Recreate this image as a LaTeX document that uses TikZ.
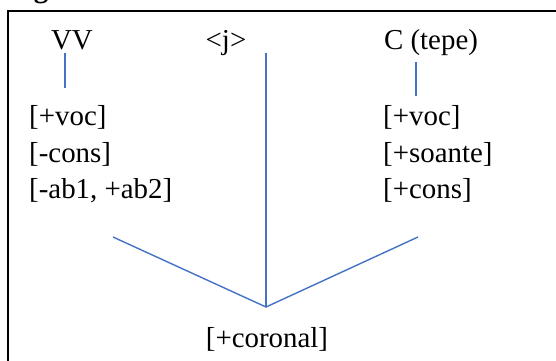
\documentclass[tikz,border=0pt]{standalone}
\usepackage{fontspec}
\setmainfont{Liberation Serif}
\definecolor{lineblue}{HTML}{4472C4}
\begin{document}
\begin{tikzpicture}[x=1bp,y=-1bp,
  lbl/.style={inner sep=0pt, font=\fontsize{29}{34}\selectfont},
  link/.style={draw=lineblue, line width=1.4bp}]
\useasboundingbox (0,0) rectangle (556,360);
\begin{scope}
\clip (0,0) rectangle (556,360);
\node[inner sep=0pt, font=\bfseries\fontsize{29}{34}\selectfont, anchor=base west] (fig) at (8,-3) {Figura 1};
\draw[line width=1.2bp] (8,11) rectangle (580,380);
\end{scope}
% top labels
\node[lbl, anchor=base] (vv) at (72,49) {VV};
\node[lbl, anchor=base] (j) at (226,49) {<j>};
\node[lbl, anchor=base] (c) at (431,49) {C (tepe)};
% left feature block
\node[lbl, anchor=base west] (l1) at (29,125) {[+voc]};
\node[lbl, anchor=base west] (l2) at (29,162) {[-cons]};
\node[lbl, anchor=base west] (l3) at (29,198) {[-ab1, +ab2]};
% right feature block
\node[lbl, anchor=base west] (r1) at (383,125) {[+voc]};
\node[lbl, anchor=base west] (r2) at (383,162) {[+soante]};
\node[lbl, anchor=base west] (r3) at (383,198) {[+cons]};
% bottom
\node[lbl, anchor=base] (co) at (267,347) {[+coronal]};
% connector end points
\coordinate (vvb) at (65,53);
\coordinate (l1t) at (65,88);
\coordinate (cb) at (416,62);
\coordinate (r1t) at (416,96);
\coordinate (jb) at (266,53);
\coordinate (joint) at (266,307);
\coordinate (lend) at (113,237);
\coordinate (rend) at (418,237);
\draw[link] (vvb) -- (l1t);
\draw[link] (cb) -- (r1t);
\draw[link] (jb) -- (joint);
\draw[link] (lend) -- (joint) -- (rend);
\end{tikzpicture}
\end{document}
